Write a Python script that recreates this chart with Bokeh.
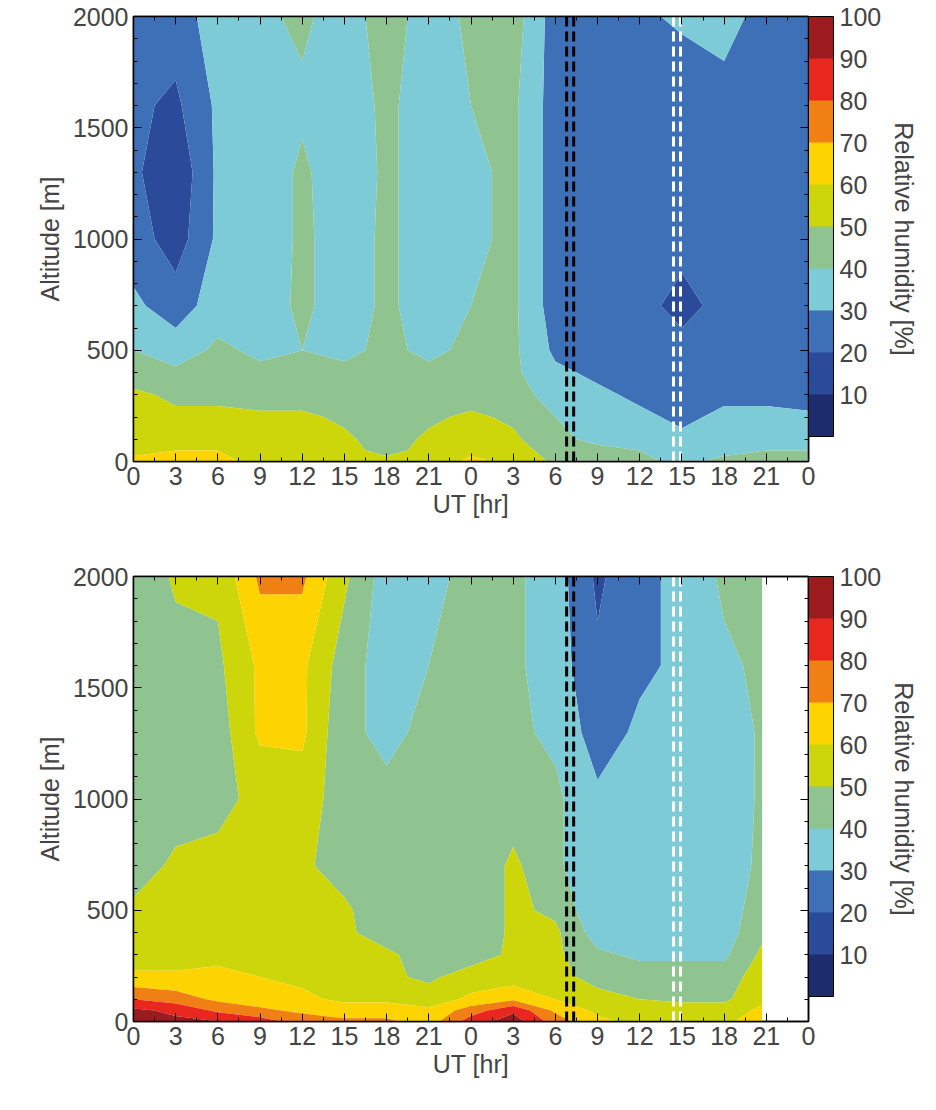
import numpy as np
from bokeh.plotting import figure
from bokeh.layouts import column
from bokeh.models import (LinearAxis, FixedTicker, ColorBar, LinearColorMapper, Title, Range1d)
from bokeh.embed import file_html
from bokeh.resources import INLINE

alts = [0, 50, 100, 200, 300, 400, 500, 700, 1000, 1300, 1600, 2000]
top_times = [0, 3, 6, 9, 12, 15, 18, 21, 24, 27, 30, 33, 36, 39, 42, 45, 48]
top_rh = [
    [62,58,55,55,52,45,40,32,25,22,22,28],
    [62,60,58,52,48,42,35,25,15,12,18,25],
    [62,60,55,52,48,45,42,35,32,32,32,35],
    [58,55,52,52,45,42,38,35,33,33,32,38],
    [55,55,52,52,45,42,40,42,42,42,38,42],
    [55,52,52,48,45,42,38,35,35,33,35,35],
    [52,48,45,42,42,42,42,42,42,42,42,45],
    [55,52,52,48,45,42,38,35,35,35,35,35],
    [62,58,55,52,45,42,42,40,38,38,40,42],
    [58,55,52,48,45,42,42,42,42,42,42,45],
    [48,45,42,40,35,32,28,25,25,25,25,25],
    [45,42,38,35,32,28,25,22,22,22,22,22],
    [42,40,35,32,28,25,25,22,22,22,22,28],
    [38,35,32,28,25,22,22,18,22,22,22,32],
    [42,38,35,32,28,25,22,22,22,22,28,32],
    [42,40,35,32,28,25,22,22,22,22,22,28],
    [42,40,35,32,25,22,22,22,22,22,22,25],
]
bot_times = [0, 3, 6, 9, 12, 15, 18, 21, 24, 27, 30, 33, 36, 39, 42, 44.7]
bot_rh = [
    [95,92,80,62,55,55,52,45,42,42,42,40],
    [92,88,75,62,55,55,55,52,45,45,45,52],
    [90,78,68,62,58,55,55,52,48,45,48,52],
    [85,72,65,60,55,55,52,52,52,62,62,72],
    [75,68,62,58,55,52,52,52,55,62,62,72],
    [72,65,58,55,52,52,52,45,45,42,45,52],
    [72,65,58,52,52,45,42,42,42,38,35,35],
    [65,62,55,48,45,42,42,42,42,42,40,38],
    [85,75,62,55,45,42,42,42,42,42,42,42],
    [95,88,68,55,52,52,52,52,45,42,42,42],
    [75,68,60,55,52,52,48,42,42,38,35,35],
    [62,58,55,45,42,35,32,32,32,25,22,18],
    [58,55,50,45,38,35,35,32,32,32,28,28],
    [58,55,48,45,38,32,32,32,32,32,32,32],
    [58,55,48,45,38,35,35,35,32,32,38,42],
    [65,62,58,55,52,48,45,42,42,42,42,42],
]
levels = list(range(0, 101, 10))
palette = ["#1c2c6c", "#2b4a9a", "#3d70b6", "#7ecbd8", "#8fc490",
           "#cdd60a", "#fdd400", "#f07f14", "#e8271f", "#9b1b1e"]
black_dash = [30.8, 31.3]
white_dash = [38.4, 38.9]
xticks = list(range(0, 49, 3))
xlabels = {t: str(t % 24) for t in xticks}
yticks = [0, 500, 1000, 1500, 2000]

FONT = "Liberation Sans"
FS = "25px"

def panel(times, rh, top_border):
    p = figure(frame_width=675, frame_height=445, output_backend="svg",
               toolbar_location=None, x_range=Range1d(0, 48), y_range=Range1d(0, 2000),
               min_border_left=133, min_border_top=top_border, min_border_bottom=8,
               min_border_right=10)
    p.grid.visible = False
    p.outline_line_color = "black"
    p.outline_line_width = 1.5
    x, y = np.meshgrid(np.array(times, float), np.array(alts, float))
    z = np.array(rh, float).T
    p.contour(x, y, z, levels=levels, fill_color=palette, line_color=None)
    for xs, col in ((black_dash, "black"), (white_dash, "white")):
        for xv in xs:
            p.line([xv, xv], [0, 2000], line_color=col, line_width=3, line_dash="10 5")
    for ax in p.xaxis + p.yaxis:
        ax.major_label_text_font = FONT
        ax.major_label_text_font_size = FS
        ax.axis_label_text_font = FONT
        ax.axis_label_text_font_size = FS
        ax.axis_label_text_font_style = "normal"
        ax.major_tick_in = 8; ax.major_tick_out = 0
        ax.minor_tick_in = 4; ax.minor_tick_out = 0
        ax.axis_line_width = 1.5
    p.xaxis.ticker = FixedTicker(ticks=xticks, minor_ticks=list(np.arange(0, 48.1, 1.5)))
    p.xaxis.major_label_overrides = xlabels
    p.xaxis.axis_label = "UT [hr]"
    p.xaxis.axis_label_standoff = 2
    p.yaxis.ticker = FixedTicker(ticks=yticks, minor_ticks=list(range(0, 2001, 100)))
    p.yaxis.axis_label = "Altitude [m]"
    p.yaxis.axis_label_standoff = 6
    ta = LinearAxis(ticker=FixedTicker(ticks=xticks, minor_ticks=list(np.arange(0, 48.1, 1.5))),
                    major_label_overrides={t: "" for t in xticks}, major_tick_in=8, major_tick_out=0,
                    minor_tick_in=4, minor_tick_out=0, axis_line_width=1.5)
    ra = LinearAxis(ticker=FixedTicker(ticks=yticks, minor_ticks=list(range(0, 2001, 100))),
                    major_label_overrides={t: "" for t in yticks}, major_tick_in=8, major_tick_out=0,
                    minor_tick_in=4, minor_tick_out=0, axis_line_width=1.5)
    p.add_layout(ta, "above")
    p.add_layout(ra, "right")
    mapper = LinearColorMapper(palette=palette, low=0, high=100)
    cb = ColorBar(color_mapper=mapper, ticker=FixedTicker(ticks=list(range(10, 101, 10))),
                  width=25, height=420, major_label_text_font=FONT,
                  major_label_text_font_size=FS, major_tick_line_color=None,
                  bar_line_color="black", padding=0, margin=22, label_standoff=6,
                  background_fill_alpha=0)
    p.add_layout(cb, "right")
    p.add_layout(Title(text="Relative humidity [%]", text_font=FONT, text_font_size=FS,
                       text_font_style="normal", align="center"), "right")
    return p

p1 = panel(top_times, top_rh, 16)
p2 = panel(bot_times, bot_rh, 56)
layout = column(p1, p2, spacing=0)
open("out.html", "w").write(file_html(layout, INLINE))
